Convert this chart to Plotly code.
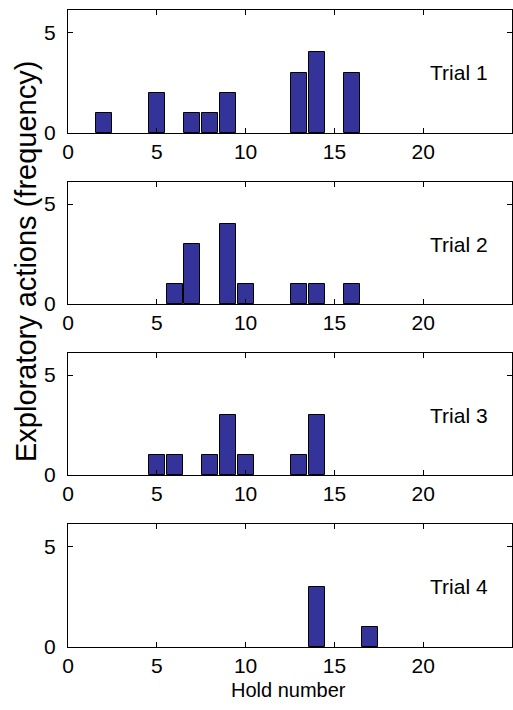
import plotly.graph_objects as go

# Data
holds_t1 = [2, 5, 7, 8, 9, 13, 14, 16]
freq_t1 = [1, 2, 1, 1, 2, 3, 4, 3]
holds_t2 = [6, 7, 9, 10, 13, 14, 16]
freq_t2 = [1, 3, 4, 1, 1, 1, 1]
holds_t3 = [5, 6, 8, 9, 10, 13, 14]
freq_t3 = [1, 1, 1, 3, 1, 1, 3]
holds_t4 = [14, 17]
freq_t4 = [3, 1]
trial_labels = ["Trial 1", "Trial 2", "Trial 3", "Trial 4"]
x_ticks = [0, 5, 10, 15, 20]
y_ticks = [0, 5]

series = [(holds_t1, freq_t1), (holds_t2, freq_t2), (holds_t3, freq_t3), (holds_t4, freq_t4)]

W, H = 513, 710
ml, mr, mt, mb = 68, 1, 10, 63
pw, ph = W - ml - mr, H - mt - mb
# panel pixel extents (top, bottom)
panels = [(10, 133), (182, 304), (353, 475), (524, 647)]

def py(p):
    return (H - mb - p) / ph

FONT = "Liberation Sans, Arial, Helvetica, sans-serif"
fig = go.Figure()
for i, (xs, ys) in enumerate(series):
    n = "" if i == 0 else str(i + 1)
    fig.add_trace(go.Bar(x=xs, y=ys, width=0.9, xaxis="x" + n, yaxis="y" + n,
                         marker=dict(color="#333399", line=dict(color="black", width=1)),
                         showlegend=False))
    top, bot = panels[i]
    ax = dict(range=[0, 25], tickvals=x_ticks, ticks="inside", ticklen=5, tickcolor="black",
              showline=True, linecolor="black", linewidth=1, mirror="ticks", showgrid=False,
              zeroline=False, anchor="y" + n, domain=[0, 1], automargin=False,
              tickfont=dict(size=21, color="black", family=FONT))
    ay = dict(range=[0, 6.1], tickvals=y_ticks, ticks="inside", ticklen=5, tickcolor="black",
              showline=True, linecolor="black", linewidth=1, mirror="ticks", showgrid=False,
              zeroline=False, anchor="x" + n, domain=[py(bot), py(top)], automargin=False,
              ticklabelstandoff=7,
              tickfont=dict(size=21, color="black", family=FONT))
    fig.update_layout(**{"xaxis" + n: ax, "yaxis" + n: ay})
    fig.add_annotation(x=22, y=3, xref="x" + n, yref="y" + n, text=trial_labels[i],
                       showarrow=False, font=dict(size=21, color="black", family=FONT))

fig.add_annotation(x=(26 - ml) / pw, y=py(262), xref="paper", yref="paper",
                   xanchor="center", yanchor="middle",
                   text="Exploratory actions (frequency)", textangle=-90, showarrow=False,
                   font=dict(size=29, color="black", family=FONT))
fig.add_annotation(x=(288 - ml) / pw, y=py(690), xref="paper", yref="paper",
                   xanchor="center", yanchor="middle",
                   text="Hold number", showarrow=False,
                   font=dict(size=20, color="black", family=FONT))

fig.update_layout(width=W, height=H, margin=dict(l=ml, r=mr, t=mt, b=mb),
                  plot_bgcolor="white", paper_bgcolor="white", bargap=0)
fig.write_html("out.html", config={"displayModeBar": False},
               post_script="document.body.style.margin='0';document.body.style.overflow='hidden';")
